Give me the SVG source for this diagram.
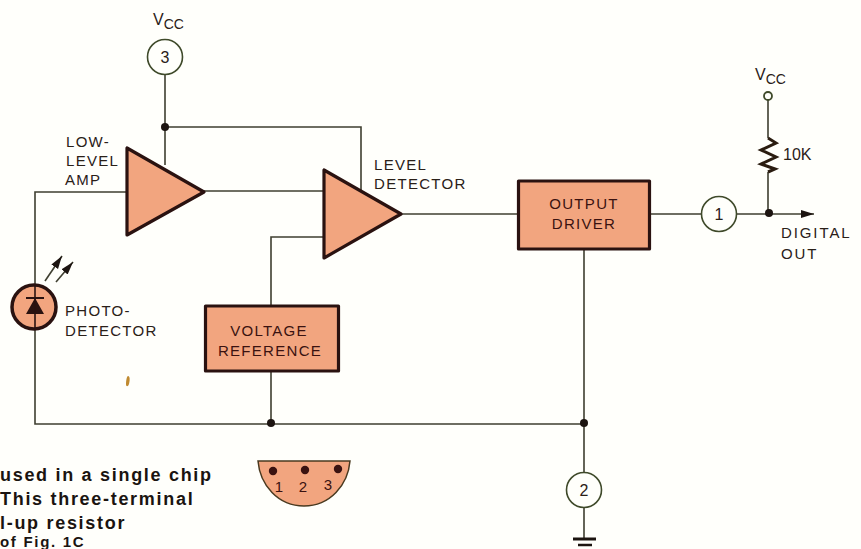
<svg xmlns="http://www.w3.org/2000/svg" width="861" height="549" viewBox="0 0 861 549">
<style>
.w{fill:none;stroke:#3f3f30;stroke-width:1.6}
.f{fill:#f2a57f;stroke:#2a1210;stroke-width:3.2;stroke-linejoin:round}
.p{fill:#fffffb;stroke:#3f4a2a;stroke-width:1.6}
.d{fill:#1c1410}
text{font-family:"Liberation Sans",Arial,sans-serif;font-size:15px;fill:#2a2018;letter-spacing:1.3px}
.b{fill:#3a1210;text-anchor:middle}
.n{font-size:16px;text-anchor:middle;letter-spacing:0}
.s{font-weight:bold;font-size:18px;fill:#1a1410;letter-spacing:1.7px}
</style>
<defs>
<marker id="a" markerWidth="14" markerHeight="10" refX="13" refY="4" orient="auto" markerUnits="userSpaceOnUse"><path d="M0 0L13 4L0 8Z" fill="#1c1410"/></marker>
</defs>
<rect width="861" height="549" fill="#fffffb"/>
<g id="connectors">
<path class="w" d="M165 74V165M165 127H361V190"/>
<path class="w" d="M127 192H35V424H585"/>
<path class="w" d="M204 191H324"/>
<path class="w" d="M324 237H271V306M271 371V424"/>
<path class="w" d="M401 214H518"/>
<path class="w" d="M650 214H702M736 214H768"/>
<path class="w" d="M768 214H814" marker-end="url(#a)"/>
<path class="w" d="M584 249V473M584 507V539"/>
<path class="w" d="M768 100V138M768 172V214"/>
<path d="M768 138L776 143L761 150L776 157L761 164L775 169L768 172" fill="none" stroke="#2a1c10" stroke-width="3"/>
<path d="M45 281L62 256" class="w" marker-end="url(#a)"/>
<path d="M56 282L73 262" class="w" marker-end="url(#a)"/>
<circle class="d" cx="165" cy="127" r="4"/>
<circle class="d" cx="271" cy="423" r="4"/>
<circle class="d" cx="584" cy="423" r="4"/>
<circle class="d" cx="769" cy="213" r="4"/>
<path d="M573 539H596" stroke="#1c1410" stroke-width="3"/>
<path d="M578 545H592" stroke="#1c1410" stroke-width="2.5"/>
</g>
<g id="vcc-top"><text x="153" y="25" style="font-size:16px;letter-spacing:0">V<tspan dy="4" style="font-size:14px;letter-spacing:0">CC</tspan></text></g>
<g id="pin3"><circle class="p" cx="165" cy="57" r="17.5"/><text class="n" x="165" y="63">3</text></g>
<g id="amp"><path class="f" d="M127 148V235L204 192Z"/>
<text x="66" y="147">LOW-</text><text x="66" y="166">LEVEL</text><text x="65" y="185">AMP</text></g>
<g id="level-detector"><path class="f" d="M324 170V258L401 214Z"/>
<text x="374" y="170">LEVEL</text><text x="374" y="189">DETECTOR</text></g>
<g id="output-driver"><rect class="f" x="518.500" y="181" width="131" height="68"/>
<text class="b" x="584" y="209">OUTPUT</text><text class="b" x="584" y="229">DRIVER</text></g>
<g id="voltage-reference"><rect class="f" x="205.500" y="306" width="133" height="65"/>
<text class="b" x="269" y="336">VOLTAGE</text><text class="b" x="270" y="356">REFERENCE</text></g>
<g id="photodetector"><circle cx="34" cy="307" r="22" fill="#f2a57f" stroke="#2a1210" stroke-width="3.500"/>
<path d="M26 298H44" stroke="#2a1210" stroke-width="2"/><path d="M35 298L26 314H44Z" fill="#2a1210"/><path d="M35 285V330" stroke="#2a1210" stroke-width="1.600"/>
<text x="65" y="316">PHOTO-</text><text x="65" y="336">DETECTOR</text></g>
<g id="pin1"><circle class="p" cx="719" cy="214" r="17.500"/><text class="n" x="719" y="220">1</text></g>
<g id="pin2"><circle class="p" cx="584" cy="490" r="17.500"/><text class="n" x="584" y="496">2</text></g>
<g id="vcc-right"><circle cx="768" cy="96" r="4" fill="#fffffb" stroke="#3f4a2a" stroke-width="1.800"/>
<text x="755" y="80" style="font-size:16px;letter-spacing:0">V<tspan dy="4" style="font-size:14px;letter-spacing:0">CC</tspan></text></g>
<g id="resistor-label"><text x="783" y="160" style="font-size:16px;letter-spacing:0">10K</text></g>
<g id="digital-out"><text x="781" y="238" style="letter-spacing:1.900px">DIGITAL</text><text x="781" y="259" style="letter-spacing:1.900px">OUT</text></g>
<g id="package"><path d="M258 461H350C348 485 330 506 304 506C278 506 260 485 258 461Z" fill="#f2a57f" stroke="#4a3a20" stroke-width="1.500"/>
<circle cx="273" cy="471" r="4.200" fill="#3a1210"/><circle cx="305" cy="470" r="4.200" fill="#3a1210"/><circle cx="338" cy="469" r="4.200" fill="#3a1210"/>
<text class="b" x="279" y="492" style="letter-spacing:0;font-size:15px">1</text><text class="b" x="303" y="492" style="letter-spacing:0;font-size:15px">2</text><text class="b" x="328" y="490" style="letter-spacing:0;font-size:15px">3</text></g>
<path d="M128 376C130 376 130 380 129 384C128 387 126 387 126 384C126 380 127 376 128 376Z" fill="#c08a30"/>
<text class="s" x="0" y="481">used in a single chip</text>
<text class="s" x="0" y="505">This three-terminal</text>
<text class="s" x="0" y="529">l-up resistor</text>
<text class="s" x="0" y="547" style="font-size:15px">of Fig. 1C</text>
</svg>
